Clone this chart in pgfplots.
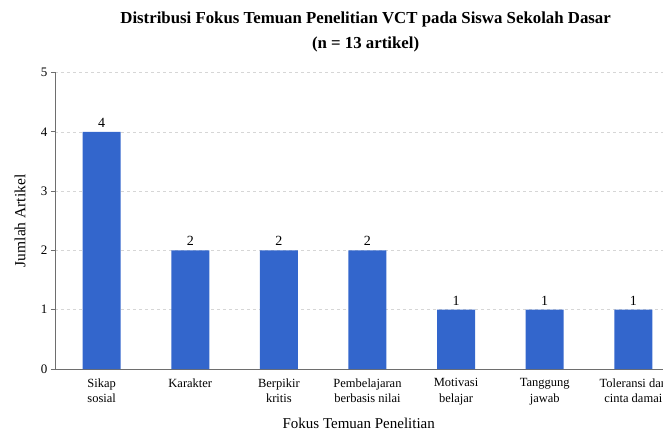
\documentclass[border=0pt]{standalone}
\usepackage{pgfplots}
\pgfplotsset{compat=1.18}
\usepackage{fontspec}
\setmainfont{Liberation Serif}
\definecolor{barblue}{HTML}{3366CC}
\definecolor{spine}{HTML}{6E6E6E}
\definecolor{gridc}{HTML}{D6D6D6}
\begin{document}
\begin{tikzpicture}
\begin{axis}[
  x=88.6pt, y=59.3pt,
  xmin=-0.527, xmax=6.527, ymin=0, ymax=5,
  axis x line*=bottom, axis y line*=left,
  axis line style={spine, line width=0.8pt},
  ybar, bar width=38pt,
  xtick={0,...,6},
  xticklabels={{Sikap\\sosial},Karakter,{Berpikir\\kritis},{Pembelajaran\\berbasis nilai},{Motivasi\\belajar},{Tanggung\\jawab},{Toleransi dan\\cinta damai}},
  x tick label style={align=center, font=\fontsize{12.5}{15.5}\selectfont, anchor=north, yshift=-2pt},
  major x tick style={draw=none},
  ytick={0,...,5},
  y tick label style={font=\fontsize{13}{13}\selectfont},
  major y tick style={spine, line width=0.8pt},
  major tick length=4pt,
  tick align=outside,
  /pgf/number format/assume math mode=true,
  ymajorgrids,
  grid style={gridc, dashed, line width=0.6pt},
  nodes near coords,
  every node near coord/.append style={font=\fontsize{14}{14}\selectfont, black, yshift=1pt},
  ylabel={Jumlah Artikel},
  ylabel style={font=\fontsize{15.5}{15.5}\selectfont, at={(axis description cs:-0.056,0.5)}, anchor=center},
  xlabel={Fokus Temuan Penelitian},
  xlabel style={font=\fontsize{15}{15}\selectfont, at={(axis description cs:0.486,-0.182)}, anchor=center},
  title={Distribusi Fokus Temuan Penelitian VCT pada Siswa Sekolah Dasar\\(n = 13 artikel)},
  title style={align=center, font=\bfseries\fontsize{16.8}{24.5}\selectfont, at={(axis description cs:0.497,1.117)}, anchor=center},
]
\addplot[fill=barblue, draw=none] coordinates {(0,4) (1,2) (2,2) (3,2) (4,1) (5,1) (6,1)};
\coordinate (O) at (axis cs:-0.527,0);
\end{axis}
\pgfresetboundingbox
\path[use as bounding box] (O) ++(-55pt,-63pt) rectangle ++(663pt,432pt);
\end{tikzpicture}
\end{document}
